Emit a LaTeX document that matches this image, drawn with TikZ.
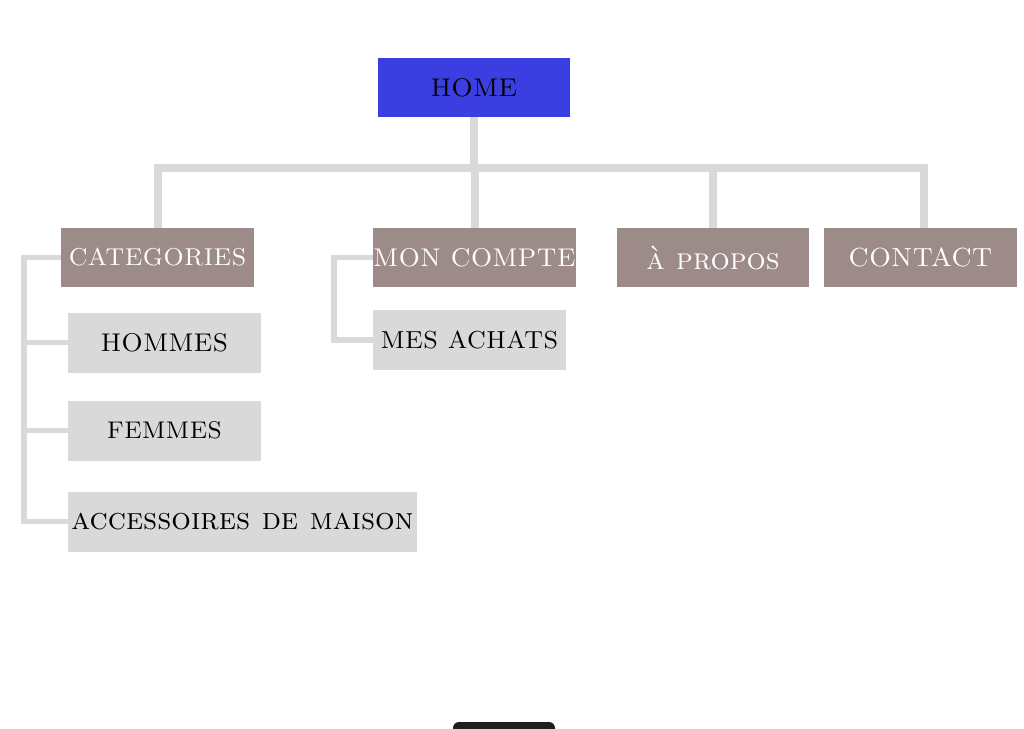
\documentclass[tikz,border=0pt]{standalone}
\usepackage{tikz}
\usetikzlibrary{positioning, calc, backgrounds}
\definecolor{homeBlue}{HTML}{3B3EE0}
\definecolor{secMauve}{HTML}{9D8B8A}
\definecolor{subGrey}{HTML}{D9D9D9}
\definecolor{lnGrey}{HTML}{D9D9D9}
\definecolor{barDark}{HTML}{1E1E1E}
\newcommand{\pgfnt}[1]{\fontsize{#1}{#1}\selectfont\scshape}

\begin{document}
\begin{tikzpicture}[x=0.5pt, y=-0.5pt,
  pg/.style={minimum height=29.5pt, inner sep=0pt, fill=secMauve, text=white, font=\pgfnt{12.8}},
  sub/.style={minimum height=30pt, inner sep=0pt, fill=subGrey, text=black, font=\pgfnt{12.8}},
  bus/.style={draw=lnGrey, line width=4pt},
  twig/.style={draw=lnGrey, line width=2.8pt}]
\useasboundingbox (0,0) rectangle (1024,729);
% home + first level
\node[pg, fill=homeBlue, text=black, minimum width=96pt] (home) at (474,87.5) {HOME};
\node[pg, minimum width=96.5pt, font=\pgfnt{12.2}] (cat) at (157.5,257.5) {CATEGORIES};
\node[pg, minimum width=101.5pt] (mon) at (474.5,257.5) {MON COMPTE};
\node[pg, minimum width=96pt, font=\pgfnt{15.1}] (apr) at (713,257.5) {à propos};
\node[pg, minimum width=96.5pt, font=\pgfnt{13.1}] (cont) at (920.5,257.5) {CONTACT};
% second level
\node[sub, minimum width=96.5pt] (hom) at (164.5,342.5) {HOMMES};
\node[sub, minimum width=96.5pt, font=\pgfnt{12.05}] (fem) at (164.5,430.5) {FEMMES};
\node[sub, minimum width=174.5pt, font=\pgfnt{15.4}] (acc) at (242.5,521.5) {accessoires de maison};
\node[sub, minimum width=96.5pt, font=\pgfnt{12.3}] (ach) at (469.5,340) {MES ACHATS};
\coordinate (jn) at (474,168);
\coordinate (catL) at (24,257.5);
\coordinate (monL) at (334,257.5);
\begin{scope}[on background layer]
\fill[white] (0,0) rectangle (1024,729);
\draw[bus] (home) -- (jn);
\draw[bus] (cat.north) |- (jn) -| ([xshift=1.75pt]cont.north);
\draw[bus] (mon.north) -- (mon.north |- jn);
\draw[bus] (apr.north) -- (apr.north |- jn);
\draw[twig] (cat.west) -- (catL) |- (acc.west);
\draw[twig] (hom.west) -- (hom.west -| catL);
\draw[twig] (fem.west) -- (fem.west -| catL);
\draw[twig] (mon.west) -- (monL) |- (ach.west);
\end{scope}
% dark bar cut by the lower edge
\begin{scope}
\clip (0,0) rectangle (1024,729);
\fill[barDark, rounded corners=3pt] (453,722) rectangle (555,760);
\end{scope}
\end{tikzpicture}
\end{document}
